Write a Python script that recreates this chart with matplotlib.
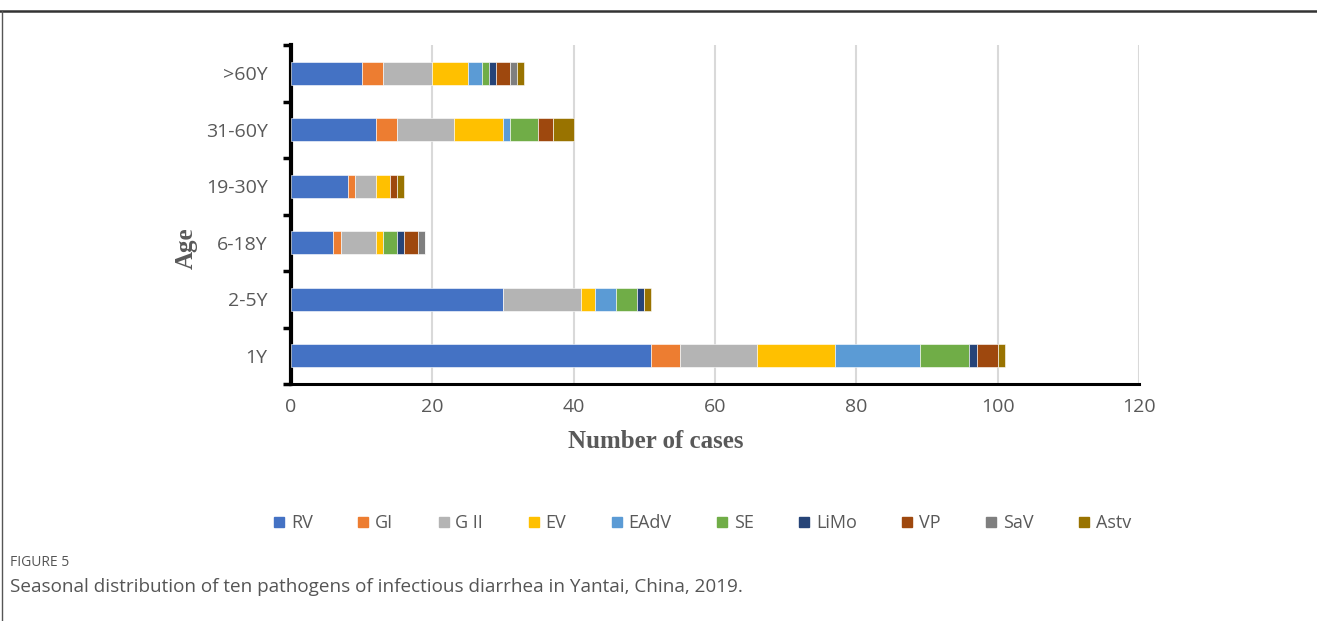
import numpy as np
import matplotlib.pyplot as plt
from matplotlib.lines import Line2D

ages = ['1Y', '2-5Y', '6-18Y', '19-30Y', '31-60Y', '>60Y']
pathogens = ['RV', 'GI', 'G II', 'EV', 'EAdV', 'SE', 'LiMo', 'VP', 'SaV', 'Astv']

# cases per age group, one list per pathogen (order follows ages)
RV = [51, 30, 6, 8, 12, 10]
GI = [4, 0, 1, 1, 3, 3]
GII = [11, 11, 5, 3, 8, 7]
EV = [11, 2, 1, 2, 7, 5]
EAdV = [12, 3, 0, 0, 1, 2]
SE = [7, 3, 2, 0, 4, 1]
LiMo = [1, 1, 1, 0, 0, 1]
VP = [3, 0, 2, 1, 2, 2]
SaV = [0, 0, 1, 0, 0, 1]
Astv = [1, 1, 0, 1, 3, 1]

series = [RV, GI, GII, EV, EAdV, SE, LiMo, VP, SaV, Astv]
colors = ['#4472C4', '#ED7D31', '#B4B4B4', '#FFC000', '#5B9BD5',
          '#70AD47', '#264478', '#9E480E', '#7F7F7F', '#997300']

fig = plt.figure(figsize=(13.17, 6.21), dpi=100)
ax = fig.add_axes([0.2210, 0.3816, 0.6439, 0.5459])

y = np.arange(len(ages))
left = np.zeros(len(ages))
handles = []
for name, vals, c in zip(pathogens, series, colors):
    vals = np.array(vals, dtype=float)
    ax.barh(y, vals, left=left, height=0.41, color=c, edgecolor='white',
            linewidth=0.4, zorder=3)
    left += vals
    handles.append(Line2D([], [], marker='s', linestyle='none', color=c,
                          markersize=6.5, label=name))

ax.set_xlim(0, 120)
ax.set_ylim(-0.5, 5.5)
ax.set_xticks(range(0, 121, 20))
ax.set_yticks(y)
ax.set_yticklabels(ages)
ax.set_yticks(np.arange(-0.5, 6, 1), minor=True)
ax.grid(axis='x', color='#D9D9D9', linewidth=1.5, zorder=0)
for s in ['top', 'right']:
    ax.spines[s].set_visible(False)
ax.spines['left'].set_linewidth(3)
ax.spines['bottom'].set_linewidth(2.2)
ax.tick_params(axis='y', which='major', length=0, pad=17,
               labelsize=14, labelcolor='#595959')
ax.tick_params(axis='y', which='minor', length=6, width=2.5, color='black')
ax.tick_params(axis='x', length=0, pad=10, labelsize=14, labelcolor='#595959')
for lab in ax.get_xticklabels() + ax.get_yticklabels():
    lab.set_fontfamily('Open Sans')

ax.set_xlabel('Number of cases', fontfamily='Liberation Serif', fontweight='bold',
              fontsize=18, color='#595959')
ax.set_ylabel('Age', fontfamily='Liberation Serif', fontweight='bold',
              fontsize=18, color='#595959')
ax.xaxis.set_label_coords(0.43, -0.136)
ax.yaxis.set_label_coords(-0.110, 0.40)

fig.legend(handles=handles, loc='center', bbox_to_anchor=(0.533, 0.158),
           ncol=10, frameon=False, handlelength=0.7, handletextpad=0.3,
           columnspacing=2.45,
           prop={'family': 'Open Sans', 'size': 13}, labelcolor='#595959')

# frame lines of the figure panel
fig.add_artist(Line2D([0, 1], [1 - 11 / 621, 1 - 11 / 621], color='#333333',
                      linewidth=1.8, transform=fig.transFigure))
fig.add_artist(Line2D([2 / 1317, 2 / 1317], [0, 1 - 11 / 621], color='#555555',
                      linewidth=1, transform=fig.transFigure))

fig.text(10 / 1317, 1 - 563 / 621, 'FIGURE 5', fontsize=10, color='#555555',
         fontfamily='Open Sans', va='center')
fig.text(10 / 1317, 1 - 587 / 621,
         'Seasonal distribution of ten pathogens of infectious diarrhea in Yantai, China, 2019.',
         fontsize=13.6, color='#555555', fontfamily='Open Sans', va='center')

fig.savefig('out.png', dpi=100)
